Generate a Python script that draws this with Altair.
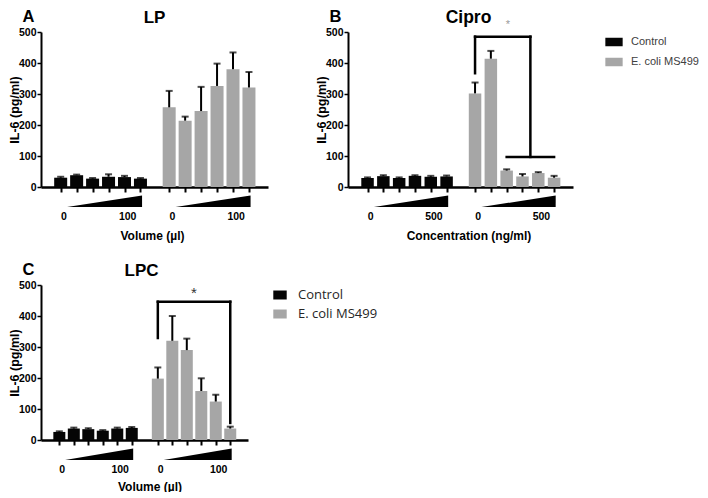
import altair as alt
import pandas as pd

# ---------------- data ----------------
groups = ["Control", "E. coli MS499"]
bar_colors = ["#050505", "#a6a6a6"]
y_ticks = [0, 100, 200, 300, 400, 500]

# Panel A - LP (volume, µl)
lp_control = [30, 38, 27, 33, 32, 27]
lp_control_err = [3, 2, 2, 8, 4, 2]
lp_ecoli = [257, 214, 245, 326, 380, 321]
lp_ecoli_err = [53, 13, 78, 72, 54, 50]

# Panel B - Cipro (concentration, ng/ml)
cipro_control = [29, 35, 29, 36, 33, 34]
cipro_control_err = [2, 3, 2, 2, 3, 3]
cipro_ecoli = [302, 414, 53, 34, 45, 30]
cipro_ecoli_err = [35, 25, 4, 8, 3, 6]

# Panel C - LPC (volume, µl)
lpc_control = [26, 37, 35, 30, 37, 39]
lpc_control_err = [2, 3, 3, 2, 3, 3]
lpc_ecoli = [198, 320, 290, 158, 124, 37]
lpc_ecoli_err = [36, 80, 37, 41, 22, 6]

dose_low = ["0", "0", "0"]
dose_high = ["100", "500", "100"]

# ---------------- layout helpers ----------------
FONT = "Liberation Sans"
H = 155
N = 6
ctrl_pos = [round(0.92 + i, 2) for i in range(N)]
ecoli_pos = [round(7.72 + i, 2) for i in range(N)]
X_DOMAIN = [0, 13.6]
U = 500 / H  # data units per pixel (y)
TITLE_Y = -14
LETTER_Y = -15.5


def panel(letter, title, xtitle, ctrl, ctrl_err, ecoli, ecoli_err, lo_lab, hi_lab,
          width, bar_size, xtitle_y, legend, title_size=17, title_dx=0, xtitle_dx=0,
          bracket=None, star=None):
    values = ctrl + ecoli
    errs = ctrl_err + ecoli_err
    pos = ctrl_pos + ecoli_pos
    df = pd.DataFrame({
        "x": pos,
        "value": values,
        "top": [v + e for v, e in zip(values, errs)],
        "group": [groups[0]] * N + [groups[1]] * N,
    })
    xaxis = alt.Axis(values=pos, labels=False, ticks=True, tickSize=5, tickWidth=2,
                     tickColor="black", domainColor="black", domainWidth=2.5, grid=False,
                     title=xtitle, titleFont=FONT, titleFontSize=12, titleFontWeight="bold",
                     titleColor="black", titleX=width / 2 + xtitle_dx, titleY=xtitle_y,
                     titleBaseline="middle", titleAlign="center")
    yaxis = alt.Axis(values=y_ticks, format="d", labelFont=FONT, labelFontSize=10.5,
                     labelFontWeight="bold", labelColor="black", labelPadding=1,
                     tickSize=4, tickWidth=1.5, tickColor="black", domainColor="black",
                     domainWidth=2, grid=False, title="IL-6 (pg/ml)", titleFont=FONT,
                     titleFontSize=12.5, titleFontWeight="bold", titleColor="black",
                     titleAngle=270, titleX=-26.5, titleY=H / 2, titleBaseline="middle",
                     titleAlign="center")
    xs = alt.Scale(domain=X_DOMAIN, nice=False, zero=False)
    ys = alt.Scale(domain=[0, 500], nice=False)

    def X(f):
        return alt.X(f"{f}:Q", scale=xs, axis=xaxis)

    def Y(f):
        return alt.Y(f"{f}:Q", scale=ys, axis=yaxis, stack=None)

    base = alt.Chart(df)
    bars = base.mark_bar(orient="vertical", size=bar_size).encode(
        x=X("x"), y=Y("value"),
        color=alt.Color("group:N", scale=alt.Scale(domain=groups, range=bar_colors),
                        legend=legend))
    err = base.mark_rule(color="black", strokeWidth=2).encode(
        x=X("x"), y=Y("value"), y2="top:Q")
    caps = base.mark_tick(orient="horizontal", color="black", thickness=2, size=7).encode(
        x=X("x"), y=Y("top"))

    # dose wedges under each group
    w_top, w_bot = -8.5 * U, -20 * U
    rows = []
    for g, p in (("c", ctrl_pos), ("e", ecoli_pos)):
        rows.append({"x": p[0] + 0.4, "y": w_bot, "y2": w_bot, "g": g})
        rows.append({"x": p[-1] + 0.1, "y": w_top, "y2": w_bot, "g": g})
    wedges = alt.Chart(pd.DataFrame(rows)).mark_area(
        color="black", orient="vertical", interpolate="linear").encode(
        x=X("x"), y=Y("y"), y2="y2:Q", detail="g:N")

    lab_rows = []
    for p in (ctrl_pos, ecoli_pos):
        lab_rows.append({"x": p[0] + 0.2, "y": -29.5 * U, "t": lo_lab})
        lab_rows.append({"x": p[4] + 0.2, "y": -29.5 * U, "t": hi_lab})
    labels = alt.Chart(pd.DataFrame(lab_rows)).mark_text(
        font=FONT, fontSize=10.5, fontWeight="bold", color="black",
        baseline="middle", align="center").encode(x=X("x"), y=Y("y"), text="t:N")

    letter_t = alt.Chart(pd.DataFrame({"t": [letter]})).mark_text(
        font=FONT, fontSize=16.5, fontWeight="bold", color="black", align="left",
        baseline="middle").encode(text="t:N", x=alt.value(-18.5), y=alt.value(LETTER_Y))
    title_t = alt.Chart(pd.DataFrame({"t": [title]})).mark_text(
        font=FONT, fontSize=title_size, fontWeight="bold", color="black", align="center",
        baseline="middle").encode(text="t:N", x=alt.value(width / 2 + title_dx),
                                  y=alt.value(TITLE_Y))

    layers = [bars, err, caps, wedges, labels, letter_t, title_t]
    if bracket is not None:
        layers.append(alt.Chart(pd.DataFrame(bracket)).mark_rule(
            color="black", strokeWidth=2.5, strokeCap="square").encode(
            x=X("x"), x2="x2:Q", y=Y("y"), y2="y2:Q"))
    if star is not None:
        layers.append(alt.Chart(pd.DataFrame([star])).mark_text(
            font=FONT, fontSize=star["s"], color=star["c"], baseline="middle",
            align="center").encode(x=X("x"), y=Y("y"), text="t:N"))
    return alt.layer(*layers).properties(width=width, height=H)


e = ecoli_pos
bracket_b = [
    {"x": e[0], "x2": e[0], "y": 367, "y2": 485},
    {"x": e[0], "x2": (e[2] + e[5]) / 2, "y": 485, "y2": 485},
    {"x": (e[2] + e[5]) / 2, "x2": (e[2] + e[5]) / 2, "y": 485, "y2": 97},
    {"x": e[2], "x2": e[5], "y": 97, "y2": 97},
]
bracket_c = [
    {"x": e[0], "x2": e[0], "y": 329, "y2": 446},
    {"x": e[0], "x2": e[5], "y": 446, "y2": 446},
    {"x": e[5], "x2": e[5], "y": 446, "y2": 55},
]

leg_b = alt.Legend(orient="none", legendX=257, legendY=1, title=None,
                   symbolType="M-1,-0.49H1V0.49H-1Z", symbolSize=300, symbolStrokeWidth=0,
                   symbolOpacity=1, labelFont=FONT, labelFontSize=11, labelColor="#404040",
                   labelOffset=8, rowPadding=6, padding=0)
leg_c = alt.Legend(orient="none", legendX=232, legendY=3, title=None,
                   symbolType="M-1,-0.67H1V0.67H-1Z", symbolSize=180, symbolStrokeWidth=0,
                   symbolOpacity=1, labelFont="Open Sans", labelFontSize=13,
                   labelColor="#262626", labelOffset=11, rowPadding=5, padding=0)

pA = panel("A", "LP", "Volume (µl)", lp_control, lp_control_err, lp_ecoli, lp_ecoli_err,
           dose_low[0], dose_high[0], 227, 13, 48.7, None, xtitle_dx=-2.5)
pB = panel("B", "Cipro", "Concentration (ng/ml)", cipro_control, cipro_control_err,
           cipro_ecoli, cipro_ecoli_err, dose_low[1], dose_high[1], 225, 12.5, 48.7, leg_b,
           title_size=17.5, title_dx=8, xtitle_dx=8, bracket=bracket_b,
           star={"x": 9.8, "y": 522, "t": "*", "s": 11, "c": "#999999"})
pC = panel("C", "LPC", "Volume (µl)", lpc_control, lpc_control_err, lpc_ecoli, lpc_ecoli_err,
           dose_low[2], dose_high[2], 207, 12, 46, leg_c, title_dx=-3, xtitle_dx=5,
           bracket=bracket_c,
           star={"x": (e[0] + e[5]) / 2, "y": 474, "t": "*", "s": 15, "c": "#333333"})

chart = alt.concat(pA, pB, pC, columns=2, spacing={"row": 98, "column": 80},
                   bounds="flush").resolve_scale(color="independent").properties(
    padding=0).configure_view(stroke=None)

chart.save("out.html", embed_options={"renderer": "svg", "actions": False})
